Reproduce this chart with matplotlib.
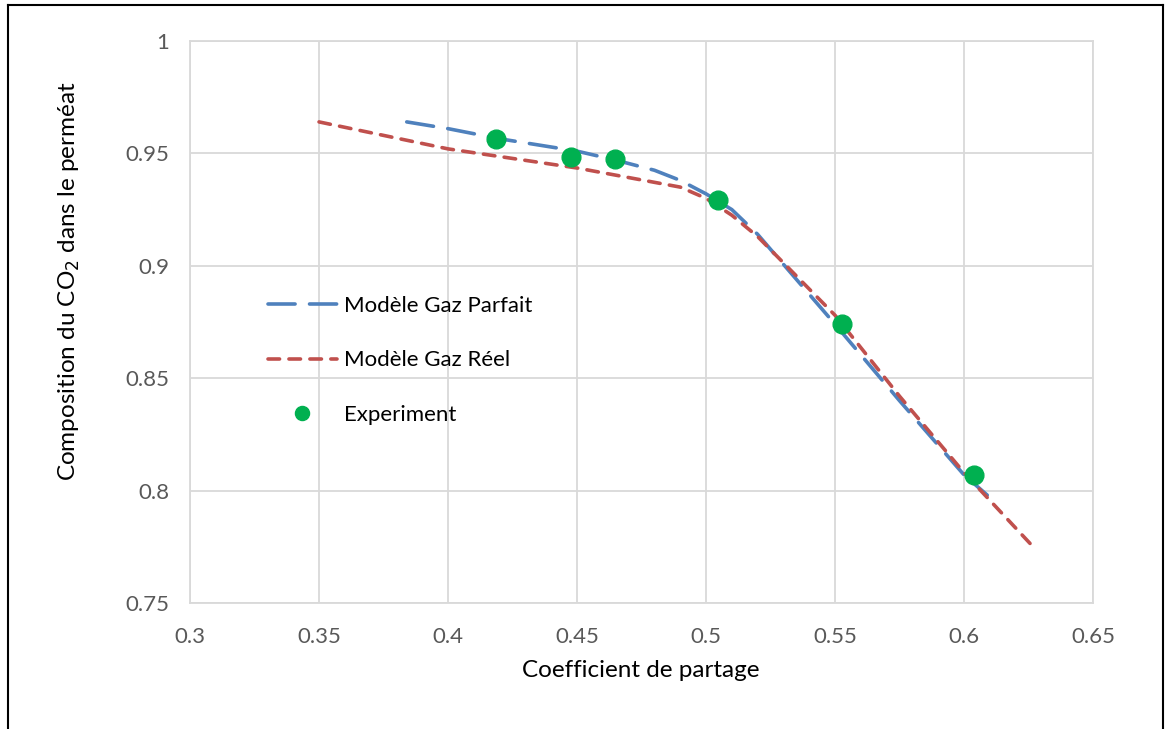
import matplotlib
matplotlib.use("Agg")
import matplotlib.pyplot as plt
from matplotlib.lines import Line2D

plt.rcParams['font.family'] = ['Lato', 'DejaVu Sans']

# Modèle Gaz Parfait
x_parfait = [0.384, 0.40, 0.42, 0.45, 0.465, 0.48, 0.49, 0.50, 0.51, 0.52, 0.55, 0.575, 0.60, 0.609]
y_parfait = [0.964, 0.961, 0.9565, 0.951, 0.947, 0.9425, 0.938, 0.932, 0.925, 0.914, 0.874, 0.840, 0.807, 0.798]

# Modèle Gaz Réel
x_reel = [0.35, 0.40, 0.45, 0.49, 0.50, 0.51, 0.52, 0.55, 0.575, 0.60, 0.626]
y_reel = [0.964, 0.952, 0.9435, 0.935, 0.930, 0.9225, 0.913, 0.878, 0.842, 0.808, 0.776]

# Experiment
x_exp = [0.4186, 0.4477, 0.4647, 0.5047, 0.5527, 0.6039]
y_exp = [0.9564, 0.9484, 0.9475, 0.9293, 0.8741, 0.8069]

fig = plt.figure(figsize=(11.68, 7.29), dpi=100)
ax = fig.add_axes([0.1627, 0.1728, 0.7731, 0.771])

ax.plot(x_parfait, y_parfait, color='#4F81BD', lw=2.6,
        linestyle=(0, (7.5, 4)), dash_capstyle='round', label='Modèle Gaz Parfait')
ax.plot(x_reel, y_reel, color='#C0504D', lw=2.6,
        linestyle=(0, (3.2, 2.6)), dash_capstyle='round', label='Modèle Gaz Réel')
ax.plot(x_exp, y_exp, 'o', color='#00B050', markersize=13.5, label='Experiment', zorder=5)

ax.set_xlim(0.3, 0.65)
ax.set_ylim(0.75, 1.0)
ax.set_xticks([0.3, 0.35, 0.4, 0.45, 0.5, 0.55, 0.6, 0.65])
ax.set_xticklabels(['0.3', '0.35', '0.4', '0.45', '0.5', '0.55', '0.6', '0.65'])
ax.set_yticks([0.75, 0.8, 0.85, 0.9, 0.95, 1.0])
ax.set_yticklabels(['0.75', '0.8', '0.85', '0.9', '0.95', '1'])
ax.grid(True, color='#d9d9d9', lw=1.3)
ax.set_axisbelow(True)
for s in ax.spines.values():
    s.set_color('#d9d9d9')
    s.set_linewidth(1.3)
ax.tick_params(length=0, labelsize=16, colors='#595959')
ax.tick_params(axis='x', pad=17)
ax.tick_params(axis='y', pad=15)

ax.set_xlabel('Coefficient de partage', fontsize=17.5)
ax.set_ylabel('Composition du CO$_2$ dans le perméat', fontsize=17.5)
ax.xaxis.set_label_coords(0.4995, -0.102)
ax.yaxis.set_label_coords(-0.12, 0.572)

ax.legend(loc='upper left', bbox_to_anchor=(0.074, 0.566), frameon=False,
          fontsize=16, handlelength=3.1, labelspacing=1.55, borderpad=0,
          handletextpad=0.3, markerscale=0.75)

# figure border (left, top, right)
for xs, ys in [([0.007, 0.007], [0.0, 0.993]), ([0.007, 0.996], [0.993, 0.993]),
               ([0.996, 0.996], [0.993, 0.0])]:
    fig.add_artist(Line2D(xs, ys, color='black', lw=1.5, transform=fig.transFigure))

fig.savefig('out.png', dpi=100)
